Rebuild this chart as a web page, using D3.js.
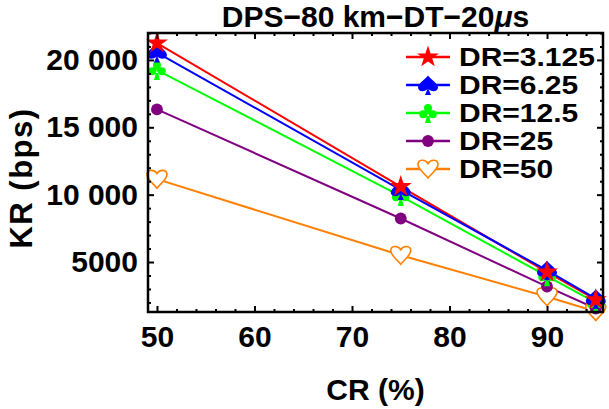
<!DOCTYPE html>
<html>
<head>
<meta charset="utf-8">
<script src="https://cdn.jsdelivr.net/npm/d3@7"></script>
<style>
  body { margin: 0; background: #fff; }
  text { font-family: "Liberation Sans", Arial, sans-serif; font-weight: bold; }
</style>
</head>
<body>
<svg id="chart" width="609" height="409"></svg>
<script>
(function () {

    // values
    var crValues = [50, 75, 90, 95];
    var seriesNames = ["DR=3.125", "DR=6.25", "DR=12.5", "DR=25", "DR=50"];
    var dr3125 = [21250, 10600, 4250, 2200];
    var dr625  = [20550, 10350, 4380, 2280];
    var dr125  = [19250, 9900, 3950, 1980];
    var dr25   = [16330, 8230, 3180, 1550];
    var dr50   = [11150, 5500, 2420, 1330];
    var xMajor = [50, 60, 70, 80, 90];
    var yMajor = [5000, 10000, 15000, 20000];

    var series = [dr3125, dr625, dr125, dr25, dr50];
    var colors = ["#ff0000", "#0000ff", "#00ff00", "#800080", "#ff8000"];
    var shapes = ["star", "spade", "club", "circle", "heart"];

    var svg = d3.select("#chart"),
        left = 148, right = 603, top = 33, bottom = 312;

    var x = d3.scaleLinear().domain([49.08, 95.74]).range([left, right]);
    var y = d3.scaleLinear().domain([1290, 22000]).range([bottom, top]);

    // marker paths, centred on 0,0
    function heart(r) {
        var p = d3.path();
        p.moveTo(0, 0.9 * r);
        p.bezierCurveTo(-0.3 * r, 0.5 * r, -r, 0, -r, -0.45 * r);
        p.bezierCurveTo(-r, -0.95 * r, -0.3 * r, -1.05 * r, 0, -0.55 * r);
        p.bezierCurveTo(0.3 * r, -1.05 * r, r, -0.95 * r, r, -0.45 * r);
        p.bezierCurveTo(r, 0, 0.3 * r, 0.5 * r, 0, 0.9 * r);
        p.closePath();
        return p.toString();
    }
    function spade(r) {
        var p = d3.path();
        p.moveTo(0, -0.95 * r);
        p.bezierCurveTo(-0.3 * r, -0.55 * r, -r, -0.15 * r, -r, 0.25 * r);
        p.bezierCurveTo(-r, 0.7 * r, -0.3 * r, 0.75 * r, 0, 0.35 * r);
        p.bezierCurveTo(0.3 * r, 0.75 * r, r, 0.7 * r, r, 0.25 * r);
        p.bezierCurveTo(r, -0.15 * r, 0.3 * r, -0.55 * r, 0, -0.95 * r);
        p.closePath();
        p.moveTo(0, 0.3 * r);
        p.lineTo(-0.3 * r, r);
        p.lineTo(0.3 * r, r);
        p.closePath();
        return p.toString();
    }
    function club(r) {
        var p = d3.path(), c = 0.4 * r;
        [[0, -0.5 * r], [-0.48 * r, 0.12 * r], [0.48 * r, 0.12 * r]].forEach(function (o) {
            p.moveTo(o[0] + c, o[1]);
            p.arc(o[0], o[1], c, 0, 2 * Math.PI);
        });
        p.moveTo(0, -0.1 * r);
        p.lineTo(-0.3 * r, r);
        p.lineTo(0.3 * r, r);
        p.closePath();
        p.moveTo(0.3 * r, 0);
        p.arc(0, 0, 0.3 * r, 0, 2 * Math.PI);
        return p.toString();
    }
    function markerPath(shape) {
        if (shape == "star") return d3.symbol(d3.symbolStar, 150)();
        if (shape == "spade") return spade(10);
        if (shape == "club") return club(10);
        if (shape == "circle") return d3.symbol(d3.symbolCircle, 110)();
        return heart(10);
    }
    function drawMarker(g, shape, color) {
        var m = g.append("path").attr("d", markerPath(shape));
        if (shape == "heart")
            m.style("fill", "#fff").style("stroke", color).style("stroke-width", 1.6);
        else
            m.style("fill", color).style("stroke", "none");
    }

    // data lines and markers
    var line = d3.line()
        .x(function (d, i) { return x(crValues[i]); })
        .y(function (d) { return y(d); });

    var plot = svg.append("g");
    series.forEach(function (vals, k) {
        plot.append("path")
            .attr("d", line(vals))
            .style("fill", "none")
            .style("stroke", colors[k])
            .style("stroke-width", 2);
    });
    // draw markers from bottom series up so red stays on top
    for (var k = series.length - 1; k >= 0; k--) {
        series[k].forEach(function (v, i) {
            var g = plot.append("g")
                .attr("transform", "translate(" + x(crValues[i]) + "," + y(v) + ")");
            drawMarker(g, shapes[k], colors[k]);
        });
    }

    // frame with inward ticks on all sides
    var xMinor = d3.range(50, 96, 2).filter(function (v) { return xMajor.indexOf(v) < 0; });
    var yMinor = d3.range(2000, 22001, 1000).filter(function (v) { return yMajor.indexOf(v) < 0; });

    function fmtY(v) {
        return v >= 10000 ? d3.format(",")(v).replace(",", " ") : String(v);
    }

    var axes = svg.append("g");
    axes.append("g").attr("transform", "translate(0," + bottom + ")")
        .call(d3.axisBottom(x).tickValues(xMajor).tickSize(-6).tickPadding(14).tickFormat(d3.format("d")));
    axes.append("g").attr("transform", "translate(0," + bottom + ")")
        .call(d3.axisBottom(x).tickValues(xMinor).tickSize(-3).tickFormat(""));
    axes.append("g").attr("transform", "translate(0," + top + ")")
        .call(d3.axisTop(x).tickValues(xMajor).tickSize(-6).tickFormat(""));
    axes.append("g").attr("transform", "translate(0," + top + ")")
        .call(d3.axisTop(x).tickValues(xMinor).tickSize(-3).tickFormat(""));
    axes.append("g").attr("transform", "translate(" + left + ",0)")
        .call(d3.axisLeft(y).tickValues(yMajor).tickSize(-6).tickPadding(10).tickFormat(fmtY));
    axes.append("g").attr("transform", "translate(" + left + ",0)")
        .call(d3.axisLeft(y).tickValues(yMinor).tickSize(-3).tickFormat(""));
    axes.append("g").attr("transform", "translate(" + right + ",0)")
        .call(d3.axisRight(y).tickValues(yMajor).tickSize(-6).tickFormat(""));
    axes.append("g").attr("transform", "translate(" + right + ",0)")
        .call(d3.axisRight(y).tickValues(yMinor).tickSize(-3).tickFormat(""));

    axes.selectAll(".domain").remove();
    axes.selectAll(".tick line").style("stroke", "#000").style("stroke-width", 2);
    axes.selectAll(".tick text")
        .style("font-size", "30px")
        .style("font-family", "'Liberation Sans', Arial, sans-serif")
        .style("font-weight", "bold")
        .style("fill", "#000");

    svg.append("rect")
        .attr("x", left).attr("y", top)
        .attr("width", right - left).attr("height", bottom - top)
        .style("fill", "none").style("stroke", "#000").style("stroke-width", 2.5);

    // title and axis labels
    var title = svg.append("text")
        .attr("x", (left + right) / 2).attr("y", 27)
        .style("text-anchor", "middle").style("font-size", "30px");
    title.append("tspan").text("DPS\u221280 km\u2212DT\u221220");
    title.append("tspan").text("\u03bc").style("font-style", "italic");
    title.append("tspan").text("s");

    svg.append("text")
        .attr("x", (left + right) / 2).attr("y", 400)
        .style("text-anchor", "middle").style("font-size", "30px")
        .text("CR (%)");

    svg.append("text")
        .attr("transform", "translate(32,178) rotate(-90)")
        .style("text-anchor", "middle").style("font-size", "31px")
        .style("letter-spacing", "1.5px")
        .text("KR (bps)");

    // legend: font kept a bit smaller so rows do not collide, stretched to the reference width
    var legend = svg.append("g");
    seriesNames.forEach(function (name, k) {
        var row = legend.append("g").attr("transform", "translate(0," + (57 + 28 * k) + ")");
        row.append("line")
            .attr("x1", 406).attr("x2", 450)
            .style("stroke", colors[k]).style("stroke-width", 2.5);
        var g = row.append("g").attr("transform", "translate(428,0)");
        drawMarker(g, shapes[k], colors[k]);
        var t = row.append("text")
            .attr("x", 459).attr("dy", "0.36em")
            .style("font-size", "25px")
            .text(name);
        var w = t.node().getComputedTextLength();
        t.attr("textLength", w * 1.2).attr("lengthAdjust", "spacingAndGlyphs");
    });
}());
</script>
</body>
</html>
